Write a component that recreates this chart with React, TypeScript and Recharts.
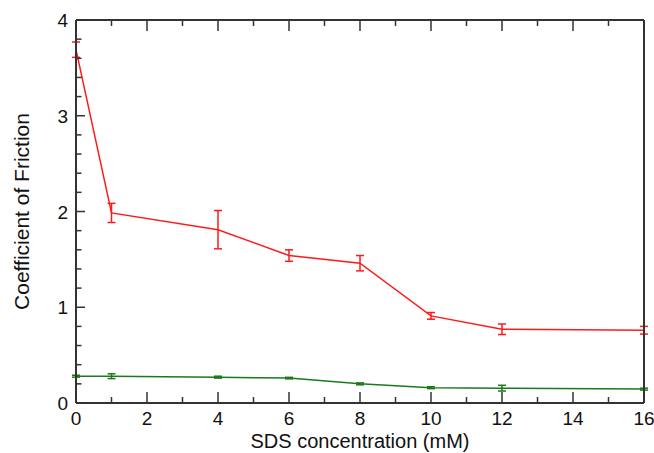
import { LineChart, Line, XAxis, YAxis, ErrorBar, Label } from "recharts";

const concentration = [0, 1, 4, 6, 8, 10, 12, 16];
const redCof = [3.69, 1.985, 1.81, 1.54, 1.46, 0.91, 0.77, 0.76];
const redErr = [0.08, 0.1, 0.2, 0.06, 0.08, 0.035, 0.055, 0.04];
const greenCof = [0.28, 0.28, 0.27, 0.26, 0.2, 0.16, 0.155, 0.145];
const greenErr = [0.01, 0.025, 0.01, 0.008, 0.01, 0.01, 0.03, 0.01];

const xTicks = [0, 1, 2, 3, 4, 5, 6, 7, 8, 9, 10, 11, 12, 13, 14, 15, 16];
const yTicks = [0, 0.2, 0.4, 0.6, 0.8, 1, 1.2, 1.4, 1.6, 1.8, 2, 2.2, 2.4, 2.6, 2.8, 3, 3.2, 3.4, 3.6, 3.8, 4];

const data = concentration.map((c, i) => ({
  c,
  red: redCof[i],
  redErr: redErr[i],
  green: greenCof[i],
  greenErr: greenErr[i],
}));

const AXIS = "#333";
const FONT = "'Liberation Sans', Arial, sans-serif";
const isMajorX = (v: number) => v % 2 === 0;
const isMajorY = (v: number) => Number.isInteger(v);

const BottomTick = ({ x, y, payload }: any) => {
  const major = isMajorX(payload.value);
  return (
    <g>
      <line x1={x} x2={x} y1={y} y2={y - (major ? 11 : 6)} stroke={AXIS} strokeWidth={1.5} />
      {major && (
        <text x={x} y={y + 21.5} textAnchor="middle" fontSize={19} fill="#111" fontFamily={FONT}>
          {payload.value}
        </text>
      )}
    </g>
  );
};

const TopTick = ({ x, y, payload }: any) => {
  const major = isMajorX(payload.value);
  return <line x1={x} x2={x} y1={y} y2={y + (major ? 11 : 6)} stroke={AXIS} strokeWidth={1.5} />;
};

const LeftTick = ({ x, y, payload }: any) => {
  const major = isMajorY(payload.value);
  return (
    <g>
      <line x1={x} x2={x + (major ? 9 : 5.5)} y1={y} y2={y} stroke={AXIS} strokeWidth={1.5} />
      {major && (
        <text x={x - 8} y={y + 7} textAnchor="end" fontSize={19} fill="#111" fontFamily={FONT}>
          {payload.value}
        </text>
      )}
    </g>
  );
};

const RightTick = ({ x, y, payload }: any) => {
  const major = isMajorY(payload.value);
  return <line x1={x} x2={x - (major ? 9 : 5.5)} y1={y} y2={y} stroke={AXIS} strokeWidth={1.5} />;
};

export default function App() {
  return (
    <div style={{ position: "absolute", left: 0, top: 0 }}>
      <LineChart width={654} height={453} data={data} margin={{ top: 18, right: 2, left: 0, bottom: 0 }}>
        <XAxis
          xAxisId="b"
          dataKey="c"
          type="number"
          domain={[0, 16]}
          ticks={xTicks}
          interval={0}
          tick={BottomTick}
          tickLine={false}
          tickSize={0}
          tickMargin={0}
          height={50}
          axisLine={{ stroke: AXIS, strokeWidth: 2 }}
        >
          <Label
            content={({ viewBox }: any) => (
              <text
                x={viewBox.x + viewBox.width / 2}
                y={viewBox.y + 44.5}
                textAnchor="middle"
                fontSize={20}
                fill="#111"
                fontFamily={FONT}
              >
                SDS concentration (mM)
              </text>
            )}
          />
        </XAxis>
        <XAxis
          xAxisId="t"
          orientation="top"
          dataKey="c"
          type="number"
          domain={[0, 16]}
          ticks={xTicks}
          interval={0}
          tick={TopTick}
          tickLine={false}
          tickSize={0}
          tickMargin={0}
          height={2}
          axisLine={{ stroke: AXIS, strokeWidth: 2 }}
        />
        <YAxis
          yAxisId="l"
          type="number"
          domain={[0, 4]}
          ticks={yTicks}
          interval={0}
          tick={LeftTick}
          tickLine={false}
          tickSize={0}
          tickMargin={0}
          width={76}
          axisLine={{ stroke: AXIS, strokeWidth: 2 }}
        >
          <Label
            content={({ viewBox }: any) => {
              const cx = 21;
              const cy = viewBox.y + viewBox.height / 2;
              return (
                <text
                  x={cx}
                  y={cy}
                  transform={`rotate(-90 ${cx} ${cy})`}
                  textAnchor="middle"
                  dominantBaseline="central"
                  fontSize={21}
                  fill="#111"
                  fontFamily={FONT}
                >
                  Coefficient of Friction
                </text>
              );
            }}
          />
        </YAxis>
        <YAxis
          yAxisId="r"
          orientation="right"
          type="number"
          domain={[0, 4]}
          ticks={yTicks}
          interval={0}
          tick={RightTick}
          tickLine={false}
          tickSize={0}
          tickMargin={0}
          width={8}
          axisLine={{ stroke: AXIS, strokeWidth: 2 }}
        />
        <Line
          xAxisId="b"
          yAxisId="l"
          dataKey="red"
          type="linear"
          stroke="#ff1a1a"
          strokeWidth={1.5}
          dot={false}
          isAnimationActive={false}
        >
          <ErrorBar dataKey="redErr" width={4} stroke="#ff1a1a" strokeWidth={1.5} direction="y" />
        </Line>
        <Line
          xAxisId="b"
          yAxisId="l"
          dataKey="green"
          type="linear"
          stroke="#1a7a1a"
          strokeWidth={1.5}
          dot={false}
          isAnimationActive={false}
        >
          <ErrorBar dataKey="greenErr" width={4} stroke="#1a7a1a" strokeWidth={1.5} direction="y" />
        </Line>
      </LineChart>
    </div>
  );
}
